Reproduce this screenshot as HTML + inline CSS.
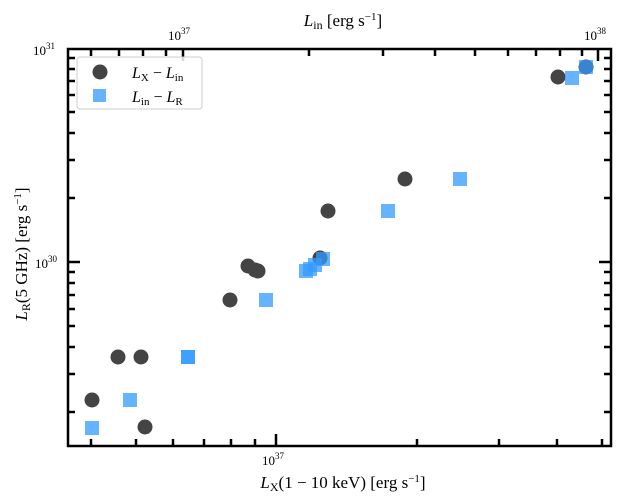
<!DOCTYPE html>
<html><head><style>body{margin:0;background:#fff}svg{display:block}text{font-family:"Liberation Serif",serif;fill:#000}</style></head>
<body>
<svg width="620" height="500" viewBox="0 0 620 500" xmlns="http://www.w3.org/2000/svg">
<g stroke="#000" stroke-width="2.5">
<!-- bottom ticks -->
<line x1="276" y1="446" x2="276" y2="434"/>
<line x1="91" y1="446" x2="91" y2="439"/><line x1="136" y1="446" x2="136" y2="439"/><line x1="173" y1="446" x2="173" y2="439"/><line x1="204" y1="446" x2="204" y2="439"/><line x1="231" y1="446" x2="231" y2="439"/><line x1="255" y1="446" x2="255" y2="439"/><line x1="417" y1="446" x2="417" y2="439"/><line x1="499" y1="446" x2="499" y2="439"/><line x1="557" y1="446" x2="557" y2="439"/><line x1="602" y1="446" x2="602" y2="439"/>
<!-- top ticks -->
<line x1="183" y1="49" x2="183" y2="61"/><line x1="598" y1="49" x2="598" y2="61"/>
<line x1="91" y1="49" x2="91" y2="56"/><line x1="119" y1="49" x2="119" y2="56"/><line x1="143" y1="49" x2="143" y2="56"/><line x1="166" y1="49" x2="166" y2="56"/><line x1="309" y1="49" x2="309" y2="56"/><line x1="383" y1="49" x2="383" y2="56"/><line x1="435" y1="49" x2="435" y2="56"/><line x1="475" y1="49" x2="475" y2="56"/><line x1="508" y1="49" x2="508" y2="56"/><line x1="536" y1="49" x2="536" y2="56"/><line x1="560" y1="49" x2="560" y2="56"/><line x1="582" y1="49" x2="582" y2="56"/>
<!-- y ticks left and right -->
<line x1="68" y1="262" x2="80" y2="262"/><line x1="611" y1="262" x2="599" y2="262"/>
<g id="ym">
<line x1="68" y1="198" x2="75" y2="198"/><line x1="68" y1="160" x2="75" y2="160"/><line x1="68" y1="133" x2="75" y2="133"/><line x1="68" y1="112" x2="75" y2="112"/><line x1="68" y1="95" x2="75" y2="95"/><line x1="68" y1="81" x2="75" y2="81"/><line x1="68" y1="69" x2="75" y2="69"/><line x1="68" y1="58" x2="75" y2="58"/>
<line x1="68" y1="272" x2="75" y2="272"/><line x1="68" y1="283" x2="75" y2="283"/><line x1="68" y1="295" x2="75" y2="295"/><line x1="68" y1="309" x2="75" y2="309"/><line x1="68" y1="326" x2="75" y2="326"/><line x1="68" y1="347" x2="75" y2="347"/><line x1="68" y1="374" x2="75" y2="374"/><line x1="68" y1="412" x2="75" y2="412"/>
</g>
<use href="#ym" transform="translate(679,0) scale(-1,1)"/>
</g>
<rect x="68" y="49" width="543" height="397" fill="none" stroke="#000" stroke-width="2.5"/>
<!-- circles -->
<g fill="#444">
<circle cx="92" cy="400" r="7.5"/><circle cx="118" cy="357" r="7.5"/><circle cx="141" cy="357" r="7.5"/><circle cx="145" cy="427" r="7.5"/><circle cx="230" cy="300" r="7.5"/><circle cx="248" cy="266" r="7.5"/><circle cx="255" cy="270" r="7.5"/><circle cx="258" cy="271" r="7.5"/><circle cx="320" cy="258" r="7.5"/><circle cx="328" cy="211" r="7.5"/><circle cx="405" cy="179" r="7.5"/><circle cx="558" cy="77" r="7.5"/><circle cx="586" cy="67" r="7.5"/>
</g>
<!-- squares -->
<g fill="#3399ff" fill-opacity="0.75">
<rect x="85" y="421" width="14" height="14"/><rect x="123" y="393" width="14" height="14"/><rect x="181" y="350" width="14" height="14"/><rect x="181" y="350" width="14" height="14"/><rect x="259" y="293" width="14" height="14"/><rect x="299" y="264" width="14" height="14"/><rect x="303" y="262" width="14" height="14"/><rect x="308" y="258" width="14" height="14"/><rect x="316" y="252" width="14" height="14"/><rect x="381" y="204" width="14" height="14"/><rect x="453" y="172" width="14" height="14"/><rect x="565" y="71" width="14" height="14"/><rect x="579" y="60" width="14" height="14"/>
</g>
<!-- legend -->
<rect x="77" y="57" width="125" height="52" rx="3" fill="#fff" fill-opacity="0.85" stroke="#ccc" stroke-width="1"/>
<circle cx="100" cy="72" r="7.5" fill="#444"/>
<rect x="93" y="89" width="13" height="13" fill="#66b3ff"/>
<text x="132" y="78" font-size="16"><tspan font-style="italic">L</tspan><tspan font-size="11" dy="3">X</tspan><tspan dy="-3"> − </tspan><tspan font-style="italic">L</tspan><tspan font-size="11" dy="3">in</tspan></text>
<text x="132" y="102" font-size="16"><tspan font-style="italic">L</tspan><tspan font-size="11" dy="3">in</tspan><tspan dy="-3"> − </tspan><tspan font-style="italic">L</tspan><tspan font-size="11" dy="3">R</tspan></text>
<!-- tick labels -->
<text x="262" y="465" font-size="13">10<tspan font-size="9" dy="-6">37</tspan></text>
<text x="168" y="40" font-size="13">10<tspan font-size="9" dy="-6">37</tspan></text>
<text x="584" y="40" font-size="13">10<tspan font-size="9" dy="-6">38</tspan></text>
<text x="33" y="55" font-size="13">10<tspan font-size="9" dy="-6">31</tspan></text>
<text x="35" y="268" font-size="13">10<tspan font-size="9" dy="-6">30</tspan></text>
<!-- axis labels -->
<text x="343" y="488" font-size="17" text-anchor="middle"><tspan font-style="italic">L</tspan><tspan font-size="12" dy="3">X</tspan><tspan dy="-3">(1 − 10 keV) [erg s</tspan><tspan font-size="11" dy="-6">−1</tspan><tspan dy="6">]</tspan></text>
<text x="343" y="26" font-size="17" text-anchor="middle"><tspan font-style="italic">L</tspan><tspan font-size="12" dy="3">in</tspan><tspan dy="-3"> [erg s</tspan><tspan font-size="11" dy="-6">−1</tspan><tspan dy="6">]</tspan></text>
<text transform="translate(27,254) rotate(-90)" font-size="17" text-anchor="middle"><tspan font-style="italic">L</tspan><tspan font-size="12" dy="3">R</tspan><tspan dy="-3">(5 GHz) [erg s</tspan><tspan font-size="11" dy="-6">−1</tspan><tspan dy="6">]</tspan></text>
</svg>
</body></html>
